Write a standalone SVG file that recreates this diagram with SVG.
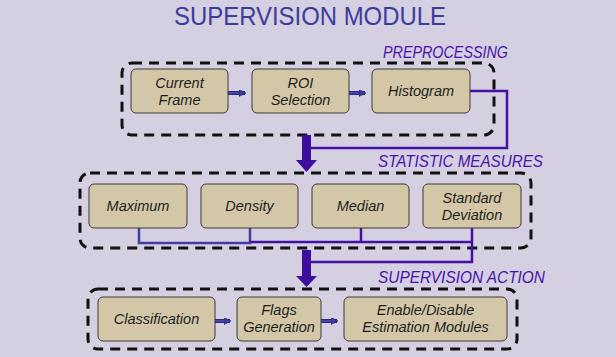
<svg xmlns="http://www.w3.org/2000/svg" width="616" height="357" viewBox="0 0 616 357">
<defs>
<style>
.bg{fill:#D4CFE1}
.grp{fill:none;stroke:#111;stroke-width:3;stroke-dasharray:10 7}
.box{fill:#D3C7A7;stroke:#3a3a3a;stroke-width:1}
.t{font-family:"Liberation Sans",Arial,sans-serif;font-style:italic;font-size:14.5px;fill:#1e1e1e;text-anchor:middle}
.lab{font-family:"Liberation Sans",Arial,sans-serif;font-style:italic;font-size:16px;fill:#4A12A8}
.sa{stroke:#2a2a7a;stroke-width:4;fill:none}
.si{stroke:#4545B0;stroke-width:2;fill:none}
.pl{stroke:#4510A5;stroke-width:2.5;fill:none}
.bl{stroke:#3E3EA6;stroke-width:2.5;fill:none}
.thick{fill:#3D0E9E}
</style>
<marker id="ah" markerWidth="7" markerHeight="7" refX="6" refY="3.5" orient="auto" markerUnits="userSpaceOnUse" viewBox="0 0 7 7">
<path d="M0,0 L7,3.5 L0,7 Z" fill="#3b3ba8" stroke="#22225a" stroke-width="0.6"/>
</marker>
</defs>
<rect class="bg" x="0" y="0" width="616" height="357"/>
<text x="310" y="25" font-family="Liberation Sans,Arial,sans-serif" font-size="25" fill="#3C3C9C" text-anchor="middle" textLength="272" lengthAdjust="spacingAndGlyphs">SUPERVISION MODULE</text>

<g id="groups">
<text class="lab" x="383" y="58" textLength="125" lengthAdjust="spacingAndGlyphs">PREPROCESSING</text>
<rect class="grp" x="122" y="63" width="372" height="72" rx="10"/>
<text class="lab" x="378" y="167" textLength="165" lengthAdjust="spacingAndGlyphs">STATISTIC MEASURES</text>
<rect class="grp" x="80" y="173" width="451" height="75" rx="10"/>
<text class="lab" x="378" y="283" textLength="167" lengthAdjust="spacingAndGlyphs">SUPERVISION ACTION</text>
<rect class="grp" x="88" y="289" width="429" height="60" rx="10"/>
</g>

<g id="connectors">
<path class="pl" d="M470,91 H507 V148 H308"/>
<rect class="thick" x="302" y="135" width="9" height="26"/>
<path class="thick" d="M296,160 L317,160 L306.5,172 Z"/>
<path class="bl" d="M139,228 V243 H250 V228"/>
<path class="pl" d="M250,242 H472 M361,228 V242 M472,228 V262 H308"/>
<rect class="thick" x="302" y="250" width="9" height="27"/>
<path class="thick" d="M296,276 L317,276 L306.5,287 Z"/>
<line class="sa" x1="228" y1="93" x2="245" y2="93"/>
<line class="si" x1="228" y1="93" x2="245" y2="93" marker-end="url(#ah)"/>
<line class="sa" x1="349" y1="93" x2="365" y2="93"/>
<line class="si" x1="349" y1="93" x2="365" y2="93" marker-end="url(#ah)"/>
<line class="sa" x1="215" y1="321" x2="230" y2="321"/>
<line class="si" x1="215" y1="321" x2="230" y2="321" marker-end="url(#ah)"/>
<line class="sa" x1="321" y1="321" x2="337" y2="321"/>
<line class="si" x1="321" y1="321" x2="337" y2="321" marker-end="url(#ah)"/>
</g>

<g id="current-frame"><rect class="box" x="131" y="69" width="97" height="44" rx="5"/><text class="t" x="179.5" y="88">Current</text><text class="t" x="179.5" y="105">Frame</text></g>
<g id="roi-selection"><rect class="box" x="252" y="69" width="97" height="44" rx="5"/><text class="t" x="300.5" y="88">ROI</text><text class="t" x="300.5" y="105">Selection</text></g>
<g id="histogram"><rect class="box" x="372" y="69" width="98" height="44" rx="5"/><text class="t" x="421" y="96">Histogram</text></g>

<g id="maximum"><rect class="box" x="89" y="184" width="98" height="44" rx="5"/><text class="t" x="138" y="211">Maximum</text></g>
<g id="density"><rect class="box" x="201" y="184" width="97" height="44" rx="5"/><text class="t" x="249.5" y="211">Density</text></g>
<g id="median"><rect class="box" x="312" y="184" width="97" height="44" rx="5"/><text class="t" x="360.5" y="211">Median</text></g>
<g id="standard-deviation"><rect class="box" x="423" y="184" width="98" height="44" rx="5"/><text class="t" x="472" y="203">Standard</text><text class="t" x="472" y="220">Deviation</text></g>

<g id="classification"><rect class="box" x="98" y="297" width="117" height="44" rx="5"/><text class="t" x="156.5" y="324">Classification</text></g>
<g id="flags-generation"><rect class="box" x="237" y="297" width="84" height="44" rx="5"/><text class="t" x="279" y="315">Flags</text><text class="t" x="279" y="332">Generation</text></g>
<g id="enable-disable"><rect class="box" x="344" y="297" width="163" height="44" rx="5"/><text class="t" x="425.5" y="315">Enable/Disable</text><text class="t" x="425.5" y="332">Estimation Modules</text></g>
</svg>
